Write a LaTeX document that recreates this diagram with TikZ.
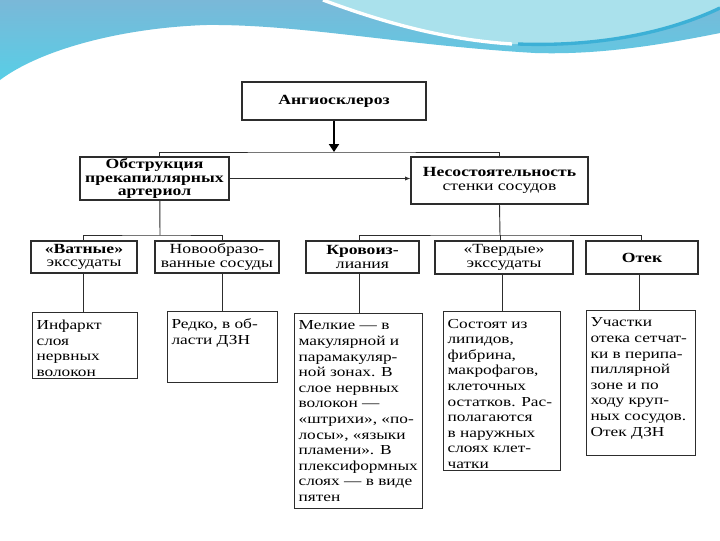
\documentclass[tikz,border=0pt]{standalone}
\usepackage{fontspec}
\setmainfont[FakeStretch=1.26]{Liberation Serif}
\usetikzlibrary{arrows.meta}
\definecolor{ln}{RGB}{45,45,45}
\definecolor{wblue}{RGB}{122,184,216}
\definecolor{wcyan}{RGB}{88,206,230}
\definecolor{wlight}{RGB}{170,225,236}
\definecolor{wdark}{RGB}{60,176,214}
\newcommand{\cbtext}[3]{\parbox[b][#2][t]{#1}{\raggedright #3}}
\begin{document}
\begin{tikzpicture}[x=0.75pt,y=-0.75pt,
  hbox/.style={draw=ln, line width=0.9pt, inner sep=0pt, align=center,
    font=\fontsize{10.5}{10.2}\selectfont},
  cbox/.style={draw=ln, line width=0.9pt, anchor=north west, inner xsep=3pt, inner ysep=0pt,
    font=\fontsize{10.3}{11.7}\selectfont},
  conn/.style={draw=ln, line width=0.7pt},
  bigarrow/.style={draw=black, line width=2.2pt, -{Triangle[width=7.5pt,length=6pt]}},
  smallarrow/.style={draw=ln, line width=0.7pt, -{Latex[length=4pt,width=3.2pt]}}
]
\useasboundingbox (0,0) rectangle (720,540);
\fill[white] (0,0) rectangle (720,540);
% decorative header wave
\shade[top color=wblue, bottom color=wcyan]
  (0,0) -- (720,0) -- (720,33) .. controls (660,45) and (600,55) .. (535,53)
  .. controls (400,45) and (300,24) .. (206,25) .. controls (120,28) and (40,50) .. (0,80) -- cycle;
\fill[wlight] (323,0) .. controls (390,25) and (450,40) .. (512,44)
  .. controls (600,47) and (670,32) .. (720,8) -- (720,0) -- cycle;
\draw[white, line width=2.5pt] (323,0) .. controls (390,25) and (450,40) .. (512,44);
\draw[wdark, line width=2.5pt] (518,44) .. controls (600,47) and (670,32) .. (720,8);

% top
\node[hbox, minimum width=138pt, minimum height=28.5pt] (A) at (334,101) {\textbf{Ангиосклероз}};
\node[hbox, minimum width=111.75pt, minimum height=32.25pt] (O) at (154.5,178.5)
  {\textbf{Обструкция}\\\textbf{прекапиллярных}\\\textbf{артериол}};
\node[hbox, minimum width=132.75pt, minimum height=35.25pt] (N) at (499.5,180.5)
  {\textbf{Несостоятельность}\\стенки сосудов};

% second level
\node[hbox, minimum width=79.5pt, minimum height=24pt] (B1) at (84,257) {\textbf{«Ватные»}\\экссудаты};
\node[hbox, minimum width=93pt, minimum height=24pt] (B2) at (217,257) {Новообразо-\\ванные сосуды};
\node[hbox, minimum width=84.75pt, minimum height=24pt] (B3) at (362.5,257) {\textbf{Кровоиз-}\\лиания};
\node[hbox, minimum width=103.5pt, minimum height=24.75pt] (B4) at (504,257.5) {«Твердые»\\экссудаты};
\node[hbox, minimum width=84pt, minimum height=24.75pt] (B5) at (642,257.5) {\textbf{Отек}};

% third level
\node[cbox] (C1) at (32,312) {\cbtext{72.75pt}{49.5pt}{\vspace*{5.5pt}Инфаркт\\слоя\\нервных\\волокон}};
\node[cbox] (C2) at (167,311) {\cbtext{76.5pt}{53.25pt}{\vspace*{5.5pt}Редко, в об-\\ласти ДЗН}};
\node[cbox] (C3) at (294,313) {\cbtext{90pt}{146.25pt}{\vspace*{5.5pt}Мелкие — в\\макулярной и\\парамакуляр-\\ной зонах. В\\слое нервных\\волокон —\\«штрихи», «по-\\лосы», «языки\\пламени». В\\плексиформных\\слоях — в виде\\пятен}};
\node[cbox] (C4) at (443,311) {\cbtext{81.75pt}{119.25pt}{\vspace*{5.5pt}Состоят из\\липидов,\\фибрина,\\макрофагов,\\клеточных\\остатков. Рас-\\полагаются\\в наружных\\слоях клет-\\чатки}};
\node[cbox] (C5) at (586,310) {\cbtext{75.75pt}{108.75pt}{\vspace*{5.5pt}Участки\\отека сетчат-\\ки в перипа-\\пиллярной\\зоне и по\\ходу круп-\\ных сосудов.\\Отек ДЗН}};

% connectors
\coordinate (bus1) at (334,152);
\draw[conn] ([xshift=3.4pt]O.north) |- (bus1) -| (N.north);
\draw[bigarrow] (A.south) -- (bus1);
\draw[smallarrow] (O.east) -- (O.east -| N.west);

\coordinate (bus2) at (160,235);
\draw[conn] ([xshift=4pt]O.south) -- (bus2);
\draw[conn] ([xshift=-0.75pt]B1.north) |- (bus2) -| ([xshift=3.75pt]B2.north);
\coordinate (bus3) at (500,235);
\draw[conn] (N.south) -- (bus3);
\draw[conn] ([xshift=-2pt]B3.north) |- (bus3) -| ([xshift=-0.75pt]B5.north);
\draw[conn] (bus3) -- (bus3 |- B4.north);

\draw[conn] ([xshift=-0.75pt]B1.south) -- ([xshift=-0.75pt]B1.south |- C1.north);
\draw[conn] ([xshift=3.75pt]B2.south) -- ([xshift=3.75pt]B2.south |- C2.north);
\draw[conn] ([xshift=-2.5pt]B3.south) -- ([xshift=-2.5pt]B3.south |- C3.north);
\draw[conn] ([xshift=-1.5pt]B4.south) -- ([xshift=-1.5pt]B4.south |- C4.north);
\draw[conn] ([xshift=-2pt]B5.south) -- ([xshift=-2pt]B5.south |- C5.north);
\end{tikzpicture}
\end{document}
